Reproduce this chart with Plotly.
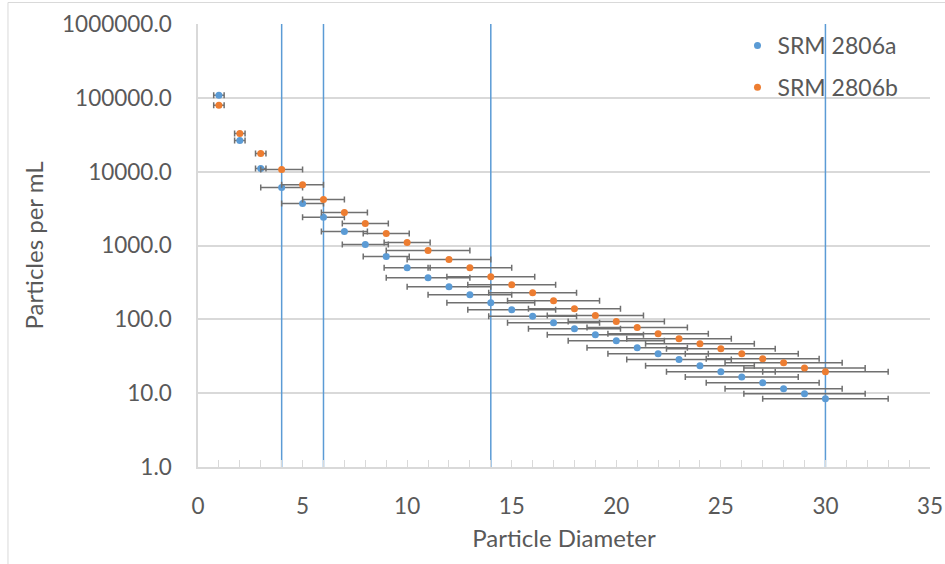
import plotly.graph_objects as go

# Particle size distribution for two SRM lots
diameter = list(range(1, 31))
srm_2806a = [108000, 26500, 11050, 6100, 3700, 2415, 1544, 1029, 707, 501,
             367, 277, 216, 168, 135, 110, 90, 74.6, 61.8, 51.3,
             41.2, 34.1, 28.6, 23.5, 19.5, 16.6, 13.8, 11.5, 9.8, 8.4]
srm_2806b = [79100, 33000, 17660, 10700, 6640, 4200, 2795, 1983, 1450, 1095,
             853, 644, 501, 378, 295, 230, 179, 139, 113, 93.7,
             77.6, 63.8, 54.6, 46.7, 39.9, 34.1, 29.2, 25.8, 22.0, 19.5]
# horizontal uncertainty on diameter
diameter_err = [0.25, 0.25, 0.25, 1.0, 1.0, 1.0, 1.1, 1.1, 1.1, 1.1,
                2.0, 2.0, 2.0, 2.1, 2.1, 2.1, 2.2, 2.2, 2.3, 2.3,
                2.4, 2.4, 2.5, 2.6, 2.6, 2.7, 2.7, 2.8, 2.9, 3.0]
# reference diameters marked with vertical lines
marker_lines = [4, 6, 14, 30]

y_tickvals = [1, 10, 100, 1000, 10000, 100000, 1000000]
y_ticktext = ["1.0", "10.0", "100.0", "1000.0", "10000.0", "100000.0", "1000000.0"]
x_tickvals = [0, 5, 10, 15, 20, 25, 30, 35]
x_ticktext = ["0", "5", "10", "15", "20", "25", "30", "35"]

FONT = "Lato"
TEXT = "#595959"
GRID = "#d9d9d9"
BLUE = "#5B9BD5"
ORANGE = "#ED7D31"
ERR = "#707070"

fig = go.Figure()

# vertical reference lines spanning the full y range
for v in marker_lines:
    fig.add_trace(go.Scatter(
        x=[v, v], y=[y_tickvals[0], y_tickvals[-1]], mode="lines",
        line=dict(color=BLUE, width=1.5), showlegend=False, hoverinfo="skip",
    ))

for name, vals, col, grp in [("SRM 2806a", srm_2806a, BLUE, "a"),
                             ("SRM 2806b", srm_2806b, ORANGE, "b")]:
    fig.add_trace(go.Scatter(
        x=diameter, y=vals, name=name, mode="markers", legendgroup=grp,
        marker=dict(color=col, size=7),
        error_x=dict(type="data", array=diameter_err, symmetric=True,
                     color=ERR, thickness=1.5, width=3),
    ))

# outer chart frame
fig.add_shape(type="rect", xref="paper", yref="paper",
              x0=-0.2596, x1=1.05, y0=-0.3, y1=1.0485,
              line=dict(color=GRID, width=1), fillcolor="rgba(0,0,0,0)",
              layer="below")

fig.update_layout(
    width=945, height=564,
    margin=dict(l=198, r=15, t=24, b=97),
    paper_bgcolor="white", plot_bgcolor="white",
    font=dict(family=FONT, color=TEXT, size=22),
    showlegend=True,
    legend=dict(x=0.737, y=1.0, xanchor="left", yanchor="top",
                bgcolor="rgba(0,0,0,0)", font=dict(size=23, color=TEXT),
                traceorder="grouped", tracegroupgap=9, itemwidth=30),
    xaxis=dict(
        range=[0, 35], tickvals=x_tickvals, ticktext=x_ticktext,
        showgrid=False, zeroline=False, automargin=False,
        showline=True, linecolor=GRID, linewidth=1.5,
        ticks="inside", ticklen=7, tickcolor=GRID, tickwidth=1,
        minor=dict(ticks="inside", dtick=1, ticklen=7, tickcolor=GRID, tickwidth=1),
        ticklabelstandoff=18,
        tickfont=dict(size=22.5, color=TEXT),
        title=dict(text="Particle Diameter", font=dict(size=24, color=TEXT), standoff=12),
    ),
    yaxis=dict(
        type="log", range=[0, 6], tickvals=y_tickvals, ticktext=y_ticktext,
        showgrid=True, gridcolor=GRID, gridwidth=1.5, automargin=False,
        zeroline=False, showline=True, linecolor=GRID, linewidth=1.5,
        ticks="", ticklabelstandoff=20,
        tickfont=dict(size=22.5, color=TEXT),
        title=dict(text="Particles per mL", font=dict(size=24, color=TEXT), standoff=12),
    ),
)

fig.write_html("out.html")
